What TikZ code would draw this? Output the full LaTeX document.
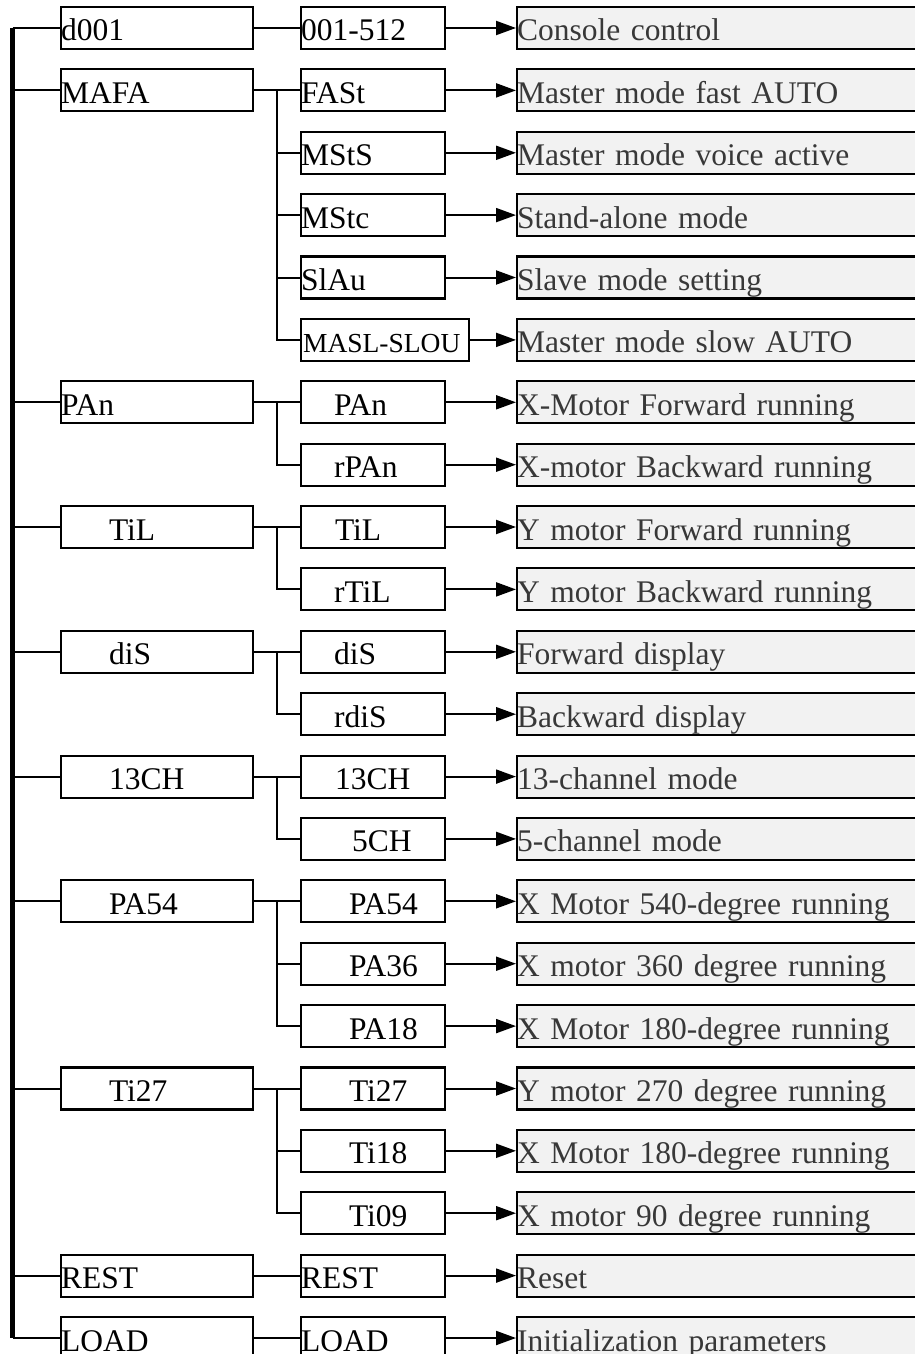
\documentclass[tikz,border=0pt]{standalone}
\usepackage{fontspec}
\setmainfont{Liberation Serif}
\usepackage{tikz}
\usetikzlibrary{arrows.meta,calc}

\begin{document}
\begin{tikzpicture}[
  x=1pt, y=-1pt,
  font=\fontsize{31.5}{36}\selectfont,
  >={Triangle[length=20pt,width=14pt]},
  box/.style={draw, line width=2.1pt, anchor=west, align=left, inner xsep=0pt, inner ysep=0pt,
              minimum height=42pt, text height=29pt, text depth=3pt},
  menu/.style={box, text width=192pt},
  sub/.style={box, text width=144pt},
  desc/.style={box, fill=black!5, text=black!78, text width=420pt},
  line/.style={line width=2pt},
  bus/.style={line width=5pt},
  arr/.style={->, line width=2pt}
]
\useasboundingbox (0,0) rectangle (915,1354);

% first level menu
\node[menu] (md001) at (60,28)     {d001};
\node[menu] (mmafa) at (60,90.4)   {MAFA};
\node[menu] (mpan)  at (60,402.3)  {PAn};
\node[menu] (mtil)  at (60,527.0)  {\hspace*{48pt}TiL};
\node[menu] (mdis)  at (60,651.8)  {\hspace*{48pt}diS};
\node[menu] (m13ch) at (60,776.6)  {\hspace*{48pt}13CH};
\node[menu] (mpa54) at (60,901.3)  {\hspace*{48pt}PA54};
\node[menu] (mti27) at (60,1088.5) {\hspace*{48pt}Ti27};
\node[menu] (mrest) at (60,1275.6) {REST};
\node[menu] (mload) at (60,1338.0) {LOAD};

% second level
\node[sub] (sd001) at (300,28)     {001-512};
\node[sub] (sfast) at (300,90.4)   {FASt};
\node[sub] (smsts) at (300,152.8)  {MStS};
\node[sub] (smstc) at (300,215.1)  {MStc};
\node[sub] (sslau) at (300,277.5)  {SlAu};
\node[sub, text width=168pt, font=\fontsize{27.5}{32}\selectfont] (smasl) at (300,339.9) {\hspace*{2pt}MASL-SLOU};
\node[sub] (span)  at (300,402.3)  {\hspace*{33pt}PAn};
\node[sub] (srpan) at (300,464.7)  {\hspace*{33pt}rPAn};
\node[sub] (stil)  at (300,527.0)  {\hspace*{34pt}TiL};
\node[sub] (srtil) at (300,589.4)  {\hspace*{33pt}rTiL};
\node[sub] (sdis)  at (300,651.8)  {\hspace*{33pt}diS};
\node[sub] (srdis) at (300,714.2)  {\hspace*{33pt}rdiS};
\node[sub] (s13ch) at (300,776.6)  {\hspace*{34pt}13CH};
\node[sub] (s5ch)  at (300,838.9)  {\hspace*{51pt}5CH};
\node[sub] (spa54) at (300,901.3)  {\hspace*{48pt}PA54};
\node[sub] (spa36) at (300,963.7)  {\hspace*{48pt}PA36};
\node[sub] (spa18) at (300,1026.1) {\hspace*{48pt}PA18};
\node[sub] (sti27) at (300,1088.5) {\hspace*{48pt}Ti27};
\node[sub] (sti18) at (300,1150.8) {\hspace*{48pt}Ti18};
\node[sub] (sti09) at (300,1213.2) {\hspace*{48pt}Ti09};
\node[sub] (srest) at (300,1275.6) {REST};
\node[sub] (sload) at (300,1338.0) {LOAD};

% descriptions
\node[desc] (dd001) at (516,28)     {Console control};
\node[desc] (dfast) at (516,90.4)   {Master mode fast AUTO};
\node[desc] (dmsts) at (516,152.8)  {Master mode voice active};
\node[desc] (dmstc) at (516,215.1)  {Stand-alone mode};
\node[desc] (dslau) at (516,277.5)  {Slave mode setting};
\node[desc] (dmasl) at (516,339.9)  {Master mode slow AUTO};
\node[desc] (dpan)  at (516,402.3)  {X-Motor Forward running};
\node[desc] (drpan) at (516,464.7)  {X-motor Backward running};
\node[desc] (dtil)  at (516,527.0)  {Y motor Forward running};
\node[desc] (drtil) at (516,589.4)  {Y motor Backward running};
\node[desc] (ddis)  at (516,651.8)  {Forward display};
\node[desc] (drdis) at (516,714.2)  {Backward display};
\node[desc] (d13ch) at (516,776.6)  {13-channel mode};
\node[desc] (d5ch)  at (516,838.9)  {5-channel mode};
\node[desc] (dpa54) at (516,901.3)  {X Motor 540-degree running};
\node[desc] (dpa36) at (516,963.7)  {X motor 360 degree running};
\node[desc] (dpa18) at (516,1026.1) {X Motor 180-degree running};
\node[desc] (dti27) at (516,1088.5) {Y motor 270 degree running};
\node[desc] (dti18) at (516,1150.8) {X Motor 180-degree running};
\node[desc] (dti09) at (516,1213.2) {X motor 90 degree running};
\node[desc] (drest) at (516,1275.6) {Reset};
\node[desc] (dload) at (516,1338.0) {Initialization parameters};

% left bus
\coordinate (bustop) at (12.5,28);
\coordinate (busend) at (12.5,1338.0);
\draw[bus] (bustop) -- (busend);
\draw[line] (bustop) -- (md001.west);
\draw[line] (mmafa.west -| bustop) -- (mmafa.west);
\draw[line] (mpan.west -| bustop) -- (mpan.west);
\draw[line] (mtil.west -| bustop) -- (mtil.west);
\draw[line] (mdis.west -| bustop) -- (mdis.west);
\draw[line] (m13ch.west -| bustop) -- (m13ch.west);
\draw[line] (mpa54.west -| bustop) -- (mpa54.west);
\draw[line] (mti27.west -| bustop) -- (mti27.west);
\draw[line] (mrest.west -| bustop) -- (mrest.west);
\draw[line] (busend) -- (mload.west);

% menu -> sub
\draw[line] (md001.east) -- (sd001.west);
\draw[line] (mrest.east) -- (srest.west);
\draw[line] (mload.east) -- (sload.west);

\draw[line] (mmafa.east) -- (sfast.west);
\coordinate (kmafa) at ($(mmafa.east)!.5!(sfast.west)$);
\draw[line] (kmafa) |- (smsts.west);
\draw[line] (kmafa) |- (smstc.west);
\draw[line] (kmafa) |- (sslau.west);
\draw[line] (kmafa) |- (smasl.west);

\draw[line] (mpan.east) -- (span.west);
\coordinate (kpan) at ($(mpan.east)!.5!(span.west)$);
\draw[line] (kpan) |- (srpan.west);

\draw[line] (mtil.east) -- (stil.west);
\coordinate (ktil) at ($(mtil.east)!.5!(stil.west)$);
\draw[line] (ktil) |- (srtil.west);

\draw[line] (mdis.east) -- (sdis.west);
\coordinate (kdis) at ($(mdis.east)!.5!(sdis.west)$);
\draw[line] (kdis) |- (srdis.west);

\draw[line] (m13ch.east) -- (s13ch.west);
\coordinate (k13ch) at ($(m13ch.east)!.5!(s13ch.west)$);
\draw[line] (k13ch) |- (s5ch.west);

\draw[line] (mpa54.east) -- (spa54.west);
\coordinate (kpa54) at ($(mpa54.east)!.5!(spa54.west)$);
\draw[line] (kpa54) |- (spa36.west);
\draw[line] (kpa54) |- (spa18.west);

\draw[line] (mti27.east) -- (sti27.west);
\coordinate (kti27) at ($(mti27.east)!.5!(sti27.west)$);
\draw[line] (kti27) |- (sti18.west);
\draw[line] (kti27) |- (sti09.west);

% sub -> description
\draw[arr] (sd001.east) -- (dd001.west);
\draw[arr] (sfast.east) -- (dfast.west);
\draw[arr] (smsts.east) -- (dmsts.west);
\draw[arr] (smstc.east) -- (dmstc.west);
\draw[arr] (sslau.east) -- (dslau.west);
\draw[arr] (smasl.east) -- (dmasl.west);
\draw[arr] (span.east) -- (dpan.west);
\draw[arr] (srpan.east) -- (drpan.west);
\draw[arr] (stil.east) -- (dtil.west);
\draw[arr] (srtil.east) -- (drtil.west);
\draw[arr] (sdis.east) -- (ddis.west);
\draw[arr] (srdis.east) -- (drdis.west);
\draw[arr] (s13ch.east) -- (d13ch.west);
\draw[arr] (s5ch.east) -- (d5ch.west);
\draw[arr] (spa54.east) -- (dpa54.west);
\draw[arr] (spa36.east) -- (dpa36.west);
\draw[arr] (spa18.east) -- (dpa18.west);
\draw[arr] (sti27.east) -- (dti27.west);
\draw[arr] (sti18.east) -- (dti18.west);
\draw[arr] (sti09.east) -- (dti09.west);
\draw[arr] (srest.east) -- (drest.west);
\draw[arr] (sload.east) -- (dload.west);
\end{tikzpicture}
\end{document}
